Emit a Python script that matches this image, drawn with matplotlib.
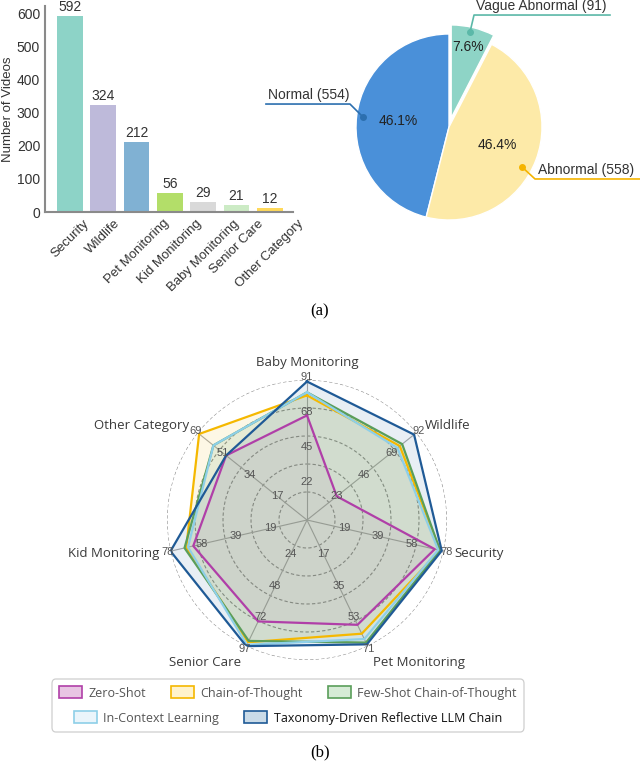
import numpy as np
import matplotlib
matplotlib.use('Agg')
import matplotlib.pyplot as plt
from matplotlib.patches import Patch, FancyBboxPatch

# ---- data: (a) bar chart
bar_cats = ['Security', 'Wildlife', 'Pet Monitoring', 'Kid Monitoring',
            'Baby Monitoring', 'Senior Care', 'Other Category']
bar_vals = [592, 324, 212, 56, 29, 21, 12]
bar_cols = ['#8DD3C7', '#BEBADA', '#80B1D3', '#B3DE69', '#D9D9D9', '#CCEBC5', '#FFD95A']

# ---- data: (a) pie
pie_labels = ['Normal', 'Abnormal', 'Vague Abnormal']
pie_vals = [554, 558, 91]
pie_cols = ['#4A90D9', '#FDEAA8', '#8ED4C6']
pie_line_cols = ['#2C6FAF', '#F5B400', '#5BB8A8']

# ---- data: (b) radar
radar_cats = ['Baby Monitoring', 'Wildlife', 'Security', 'Pet Monitoring',
              'Senior Care', 'Kid Monitoring', 'Other Category']
axis_max = [91, 92, 78, 71, 97, 78, 69]
ring_labels = [[22, 45, 68, 91], [23, 46, 69, 92], [19, 39, 58, 78], [17, 35, 53, 71],
               [24, 48, 72, 97], [19, 39, 58, 78], [17, 34, 51, 69]]
methods = ['Zero-Shot', 'Chain-of-Thought', 'Few-Shot Chain-of-Thought',
           'In-Context Learning', 'Taxonomy-Driven Reflective LLM Chain']
zero_shot = [68, 25, 73, 59, 78, 65, 51]
cot = [81, 78, 76, 64, 94, 69, 68]
few_shot = [83, 80, 76, 69, 93, 70, 59]
icl = [83, 76, 75, 67, 96, 68, 59]
taxonomy = [90, 90, 77, 70, 97, 78, 51]
series = [zero_shot, cot, few_shot, icl, taxonomy]
line_cols = ['#B03FA8', '#F5B800', '#5A9E5A', '#8ECFE8', '#1F5A96']
fill_alpha = [0.07, 0.1, 0.11, 0.05, 0.1]
legend_fill = ['#E8C5E3', '#FFF3CC', '#D6EBD6', '#EAF5FB', '#CADBE8']

W, H = 640, 765
fig = plt.figure(figsize=(W / 100, H / 100), dpi=100)
plt.rcParams['font.family'] = ['Liberation Sans', 'DejaVu Sans']


def box(x0, y0, x1, y1):
    # pixel box (top-left origin) -> figure fraction
    return [x0 / W, 1 - y1 / H, (x1 - x0) / W, (y1 - y0) / H]


# ---------- bar chart
ax = fig.add_axes(box(45, 6.4, 293, 212))
x = np.arange(len(bar_vals))
bars = ax.bar(x, bar_vals, width=0.77, color=bar_cols)
for b, v in zip(bars, bar_vals):
    ax.text(b.get_x() + b.get_width() / 2, v + 6, str(v), ha='center', va='bottom',
            fontsize=10, color='#333333')
ax.set_xlim(-0.75, 6.7)
ax.set_ylim(0, 620)
ax.set_yticks([0, 100, 200, 300, 400, 500, 600])
ax.set_xticks(x)
ax.set_xticklabels(bar_cats, rotation=45, ha='center', va='top', fontsize=9.5, color='#333333')
ax.tick_params(length=0, labelsize=10, colors='#333333')
ax.tick_params(axis='x', labelsize=9.5, pad=4)
ax.set_ylabel('Number of Videos', fontsize=9.5, color='#333333', labelpad=2)
for s in ['top', 'right']:
    ax.spines[s].set_visible(False)
for s in ['left', 'bottom']:
    ax.spines[s].set_color('#8a8a8a')
    ax.spines[s].set_linewidth(1.5)

# ---------- pie
pcx, pcy, pr = 449, 127, 93.0
pa = fig.add_axes(box(255, 0, 640, 240))
wedges, texts, autotexts = pa.pie(pie_vals, colors=pie_cols, startangle=90, counterclock=True,
                                  explode=[0, 0, 0.1], autopct='%1.1f%%', pctdistance=0.55,
                                  wedgeprops=dict(edgecolor='white', linewidth=1),
                                  textprops=dict(fontsize=10, color='#222222'))
autotexts[2].set_position((0.21, 0.86))
pa.set_xlim(-(pcx - 255) / pr, (640 - pcx) / pr)
pa.set_ylim(-(240 - pcy) / pr, pcy / pr)
pa.set_aspect('auto')
pa.axis('off')

# leader lines (dot -> elbow -> end) and labels
leaders = [
    [(-0.925, 0.108), (-1.065, 0.247), (-1.968, 0.247)],
    [(0.785, -0.43), (0.925, -0.559), (2.054, -0.559)],
    [(0.226, 1.022), (0.269, 1.204), (1.731, 1.204)],
]
text_pos = [(-1.95, 0.27), (0.96, -0.535), (0.29, 1.225)]
for i, pts in enumerate(leaders):
    xs, ys = zip(*pts)
    pa.plot(xs, ys, color=pie_line_cols[i], lw=1.2, clip_on=False)
    pa.plot(xs[0], ys[0], 'o', color=pie_line_cols[i], ms=4, clip_on=False)
    pa.text(text_pos[i][0], text_pos[i][1], f'{pie_labels[i]} ({pie_vals[i]})',
            fontsize=10, color='#333333', ha='left', va='bottom', clip_on=False)

fig.text(320 / W, 1 - 311 / H, '(a)', ha='center', va='center', fontsize=12,
         family='Liberation Serif')

# ---------- radar
n = len(radar_cats)
angles = np.arange(n) * 2 * np.pi / n
ra = fig.add_axes(box(167, 380, 447, 660), projection='polar')
ra.set_theta_offset(np.pi / 2)
ra.set_theta_direction(-1)
ra.set_ylim(0, 1.0)
ra.grid(False)
ra.set_xticks([])
ra.set_yticks([])
ra.spines['polar'].set_visible(False)
ra.patch.set_alpha(0)

tt = np.linspace(0, 2 * np.pi, 361)
for rr in [0.2, 0.4, 0.6, 0.8, 1.0]:
    ra.plot(tt, np.full_like(tt, rr), color='#8c8c8c', lw=0.8, ls=(0, (3, 2)), zorder=1)
for a in angles:
    ra.plot([a, a], [0, 1.0], color='#a8a8a8', lw=0.8, zorder=1)

for vals, lc, al in zip(series, line_cols, fill_alpha):
    r = np.array(vals) / np.array(axis_max)
    aa = np.append(angles, angles[0])
    rr = np.append(r, r[0])
    ra.fill(aa, rr, color=lc, alpha=al, lw=0, zorder=2)
for vals, lc in zip(series, line_cols):
    r = np.array(vals) / np.array(axis_max)
    aa = np.append(angles, angles[0])
    rr = np.append(r, r[0])
    ra.plot(aa, rr, color=lc, lw=1.6, zorder=3)

for a, labs in zip(angles, ring_labels):
    for f, lab in zip([0.25, 0.5, 0.75, 1.0], labs):
        ra.text(a, f + 0.02, str(lab), ha='center', va='center', fontsize=8,
                color='#555555', zorder=4)

for a, c in zip(angles, radar_cats):
    s, co = np.sin(a), np.cos(a)
    ha = 'center' if abs(s) < 0.1 else ('left' if s > 0 else 'right')
    va = 'bottom' if co > 0.9 else ('top' if co < -0.8 else 'center')
    ra.text(a, 1.08, c, ha=ha, va=va, fontsize=9.5, color='#3a3a3a', family='Open Sans')

# legend: two rows inside one rounded frame
handles = [Patch(facecolor=legend_fill[i], edgecolor=line_cols[i], lw=1.2) for i in range(5)]
common = dict(frameon=False, handlelength=1.85, handleheight=1.1,
              handletextpad=0.5, columnspacing=2.0, borderpad=0, loc='center',
              prop=dict(family='Open Sans', size=9))
leg1 = fig.legend(handles[:3], methods[:3], ncol=3,
                  bbox_to_anchor=(288 / W, 1 - 693 / H), **common)
leg2 = fig.legend(handles[3:], methods[3:], ncol=2,
                  bbox_to_anchor=(288 / W, 1 - 718 / H), **common)
for t in leg1.get_texts() + leg2.get_texts()[:1]:
    t.set_color('#555555')
leg2.get_texts()[1].set_color('#111111')
fig.add_artist(FancyBboxPatch((52 / W, 1 - 732 / H), 472 / W, 53 / H,
                              boxstyle='round,pad=0,rounding_size=0.006',
                              transform=fig.transFigure, facecolor='none',
                              edgecolor='#cfcfcf', lw=0.9))

fig.text(320 / W, 1 - 752 / H, '(b)', ha='center', va='center', fontsize=12,
         family='Liberation Serif')

fig.savefig('out.png', dpi=100)
